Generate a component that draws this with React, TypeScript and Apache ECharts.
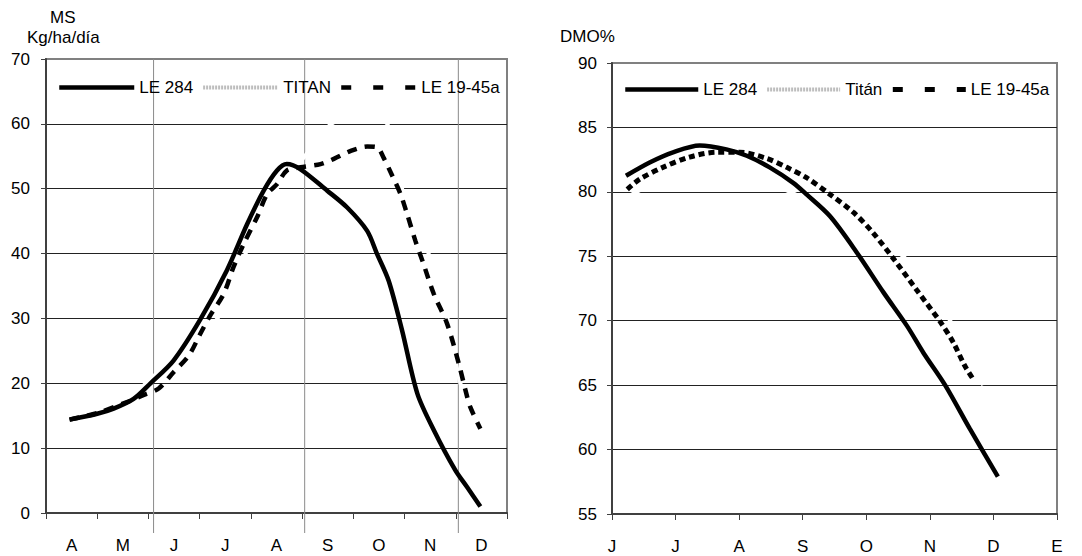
import React, { useEffect, useRef } from "react";
import * as echarts from "echarts";

// ---- Left chart (MS Kg/ha/día) ----
const leftMonths = ["A", "M", "J", "J", "A", "S", "O", "N", "D"];
const leftYTicks = { min: 0, max: 70, interval: 10 };
const seasonLines = [2.1, 5.05, 8.05];

const le284LeftX = [0.46, 1.0, 1.32, 1.71, 2.04, 2.49, 3.01, 3.53, 3.93, 4.25, 4.51, 4.7, 4.97, 5.49, 5.88, 6.27, 6.46, 6.69, 6.95, 7.25, 7.57, 7.99, 8.22, 8.48];
const le284LeftY = [14.4, 15.3, 16.1, 17.6, 20.0, 23.5, 29.8, 37.4, 44.6, 49.7, 52.8, 53.8, 53.0, 49.7, 47.1, 43.5, 40.0, 35.8, 28.2, 18.4, 12.8, 6.6, 4.0, 1.0];

const titanLeftX = [0.46, 1.0, 1.5, 1.95, 2.5, 3.0, 3.35, 3.7, 4.1, 4.5, 5.0, 5.57, 6.1, 6.66, 6.95, 7.47, 7.84, 8.09, 8.48];
const titanLeftY = [14.5, 15.4, 16.8, 20.0, 24.0, 27.5, 30.0, 36.0, 44.0, 50.0, 54.5, 60.0, 61.5, 60.0, 50.0, 40.0, 30.0, 20.0, 12.0];

const le1945LeftX = [0.46, 1.0, 1.58, 1.91, 2.2, 2.49, 2.79, 3.01, 3.21, 3.47, 3.66, 3.86, 4.12, 4.32, 4.51, 4.7, 4.97, 5.36, 5.62, 5.94, 6.27, 6.46, 6.59, 6.76, 6.92, 7.05, 7.21, 7.37, 7.57, 7.83, 8.06, 8.19, 8.28, 8.48];
const le1945LeftY = [14.4, 15.4, 17.1, 18.2, 19.2, 21.7, 24.3, 27.6, 30.5, 33.8, 37.9, 41.5, 45.6, 49.2, 50.7, 52.8, 53.3, 53.8, 54.6, 55.8, 56.5, 56.4, 54.8, 52.0, 49.2, 46.1, 42.0, 38.4, 33.8, 29.2, 23.0, 18.9, 16.4, 13.0];

// ---- Right chart (DMO%) ----
const rightMonths = ["J", "J", "A", "S", "O", "N", "D", "E"];
const rightYTicks = { min: 55, max: 90, interval: 5 };

const le284RightX = [0.22, 0.6, 0.96, 1.38, 1.8, 2.12, 2.48, 2.85, 3.06, 3.43, 3.85, 4.27, 4.64, 4.9, 5.24, 5.63, 6.07];
const le284RightY = [81.25, 82.3, 83.07, 83.6, 83.3, 82.8, 81.9, 80.7, 79.8, 78.1, 75.3, 72.2, 69.6, 67.5, 65.0, 61.6, 57.9];

const titanRightX = [0.24, 0.6, 1.0, 1.5, 2.0, 2.4, 2.8, 3.5, 4.0, 4.58, 5.0, 5.32, 5.6, 5.84];
const titanRightY = [79.6, 80.5, 81.1, 81.4, 81.2, 80.7, 80.0, 78.2, 76.8, 75.0, 72.4, 70.0, 67.5, 65.0];

const le1945RightX = [0.24, 0.44, 0.8, 1.22, 1.64, 2.01, 2.43, 2.75, 3.06, 3.43, 3.8, 4.11, 4.43, 4.79, 5.18, 5.37, 5.55, 5.69];
const le1945RightY = [80.2, 81.0, 81.9, 82.7, 83.07, 83.07, 82.6, 81.9, 81.1, 79.8, 78.4, 76.8, 74.8, 72.4, 69.8, 68.3, 66.5, 65.4];

const FONT = "'Liberation Sans', Arial, sans-serif";
const FS = 17;

const pair = (xs: number[], ys: number[]) => xs.map((x, i) => [x, ys[i]]);

export default function App() {
  const ref = useRef<HTMLDivElement>(null);

  useEffect(() => {
    document.body.style.margin = "0";
    const chart = echarts.init(ref.current!, null, { renderer: "svg" });

    const axisText = { color: "#000", fontSize: FS, fontFamily: FONT };
    const axisLine = { show: true, lineStyle: { color: "#404040", width: 2 } };
    const split = { show: true, showMaxLine: false, showMinLine: false, lineStyle: { color: "#222", width: 1 } };
    const hideSym = { opacity: 0, color: "transparent", borderWidth: 0 };

    const option: any = {
      animation: false,
      backgroundColor: "#fff",
      textStyle: { fontFamily: FONT },
      grid: [
        { left: 46, top: 59, width: 461, height: 454, show: true, borderColor: "#808080", borderWidth: 2, backgroundColor: "transparent" },
        { left: 612, top: 63, width: 445, height: 451, show: true, borderColor: "#808080", borderWidth: 2, backgroundColor: "transparent" },
      ],
      xAxis: [
        {
          type: "category", gridIndex: 0, data: leftMonths, boundaryGap: true,
          axisLine, axisTick: { show: true, length: 6, interval: 0, lineStyle: { color: "#404040", width: 1 } },
          axisLabel: { ...axisText, interval: 0, margin: 24 }, splitLine: { show: false },
        },
        { type: "value", gridIndex: 0, min: 0, max: 9, show: false },
        {
          type: "category", gridIndex: 1, data: rightMonths, boundaryGap: false,
          axisLine, axisTick: { show: true, length: 6, interval: 0, lineStyle: { color: "#404040", width: 1 } },
          axisLabel: { ...axisText, interval: 0, margin: 24 }, splitLine: { show: false },
        },
        { type: "value", gridIndex: 1, min: 0, max: 7, show: false },
      ],
      yAxis: [
        {
          type: "value", gridIndex: 0, ...leftYTicks,
          axisLine, axisTick: { show: true, length: 5, lineStyle: { color: "#404040" } },
          axisLabel: { ...axisText, margin: 16 }, splitLine: split,
        },
        {
          type: "value", gridIndex: 1, ...rightYTicks,
          axisLine, axisTick: { show: true, length: 5, lineStyle: { color: "#404040" } },
          axisLabel: { ...axisText, margin: 15 }, splitLine: split,
        },
      ],
      legend: [
        {
          left: 57, top: 79, padding: 0, itemWidth: 75, itemHeight: 14, itemGap: 8,
          textStyle: { color: "#000", fontSize: FS, fontFamily: FONT },
          itemStyle: hideSym,
          data: [
            { name: "LE 284", itemStyle: hideSym, lineStyle: { color: "#000", width: 4.5, type: "solid" } },
            { name: "TITAN", itemStyle: hideSym, lineStyle: { color: "#bdbdbd", width: 4, type: [2, 1] } },
            { name: "LE 19-45a", itemStyle: hideSym, lineStyle: { color: "#000", width: 4.5, type: [10, 22] } },
          ],
        },
        {
          left: 623, top: 81, padding: 0, itemWidth: 73, itemHeight: 14, itemGap: 8,
          textStyle: { color: "#000", fontSize: FS, fontFamily: FONT },
          itemStyle: hideSym,
          data: [
            { name: "LE 284", itemStyle: hideSym, lineStyle: { color: "#000", width: 4.5, type: "solid" } },
            { name: "Titán", itemStyle: hideSym, lineStyle: { color: "#bdbdbd", width: 4, type: [2, 1] } },
            { name: "LE 19-45a", itemStyle: hideSym, lineStyle: { color: "#000", width: 5, type: [10, 22] } },
          ],
        },
      ],
      series: [
        {
          name: "TITAN", type: "line", xAxisIndex: 1, yAxisIndex: 0, symbol: "none", smooth: 0.3, z: 2,
          data: pair(titanLeftX, titanLeftY), lineStyle: { color: "#ffffff", width: 4 }, itemStyle: { color: "#bdbdbd" },
        },
        {
          name: "LE 284", type: "line", xAxisIndex: 1, yAxisIndex: 0, symbol: "none", smooth: 0.3, z: 3,
          data: pair(le284LeftX, le284LeftY), lineStyle: { color: "#000", width: 4.5 }, itemStyle: { color: "#000" },
        },
        {
          name: "LE 19-45a", type: "line", xAxisIndex: 1, yAxisIndex: 0, symbol: "none", smooth: 0.3, z: 3,
          data: pair(le1945LeftX, le1945LeftY), lineStyle: { color: "#000", width: 4.5, type: [10, 8] }, itemStyle: { color: "#000" },
        },
        {
          name: "Titán", type: "line", xAxisIndex: 3, yAxisIndex: 1, symbol: "none", smooth: 0.3, z: 2,
          data: pair(titanRightX, titanRightY), lineStyle: { color: "#ffffff", width: 4 }, itemStyle: { color: "#bdbdbd" },
        },
        {
          name: "LE 284", type: "line", xAxisIndex: 3, yAxisIndex: 1, symbol: "none", smooth: 0.3, z: 3,
          data: pair(le284RightX, le284RightY), lineStyle: { color: "#000", width: 4.5 }, itemStyle: { color: "#000" },
        },
        {
          name: "LE 19-45a", type: "line", xAxisIndex: 3, yAxisIndex: 1, symbol: "none", smooth: 0.3, z: 3,
          data: pair(le1945RightX, le1945RightY), lineStyle: { color: "#000", width: 5, type: [6, 4] }, itemStyle: { color: "#000" },
        },
      ],
    };

    chart.setOption(option);

    const yTop = chart.convertToPixel({ yAxisIndex: 0 }, leftYTicks.max) as number;
    const yBottom = (chart.convertToPixel({ yAxisIndex: 0 }, leftYTicks.min) as number) + 20;
    const lines = seasonLines.map((v) => {
      const x = chart.convertToPixel({ xAxisIndex: 1 }, v) as number;
      return {
        type: "line", z: 1, silent: true,
        shape: { x1: x, y1: yTop, x2: x, y2: yBottom },
        style: { stroke: "#8a8a8a", lineWidth: 1 },
      };
    });

    chart.setOption({
      graphic: [
        ...lines,
        { type: "text", left: 50, top: 9, style: { text: "MS", fontSize: FS, fontFamily: FONT, fill: "#000" } },
        { type: "text", left: 27, top: 29, style: { text: "Kg/ha/día", fontSize: FS, fontFamily: FONT, fill: "#000" } },
        { type: "text", left: 560, top: 28, style: { text: "DMO%", fontSize: FS, fontFamily: FONT, fill: "#000" } },
      ],
    });

    return () => chart.dispose();
  }, []);

  return <div ref={ref} style={{ position: "absolute", left: 0, top: 0, width: 1082, height: 556 }} />;
}
